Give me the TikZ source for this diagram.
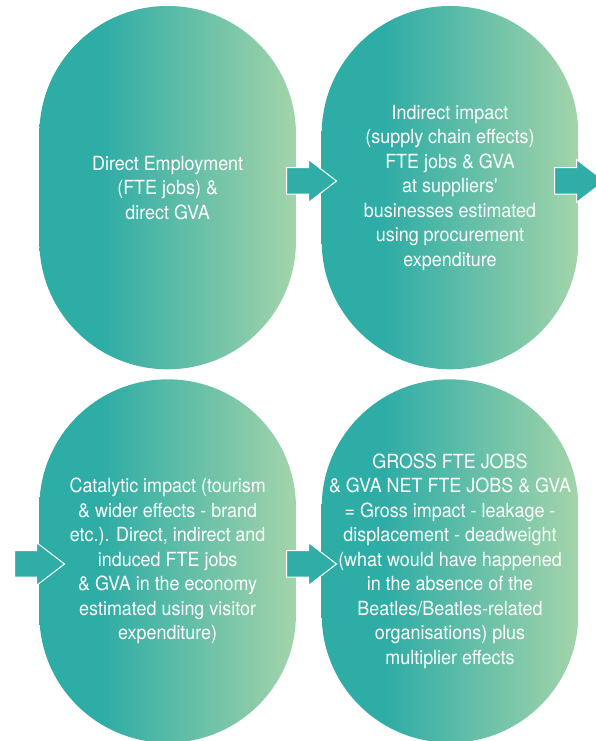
\documentclass[tikz,border=0pt]{standalone}
\usepackage{fontspec}
\setmainfont{TeX Gyre Heros}[FakeStretch=0.92]
\usepackage{tikz}
\usetikzlibrary{shapes,arrows}
\definecolor{pillteal}{RGB}{46,172,166}
\definecolor{pillgreen}{RGB}{163,212,170}
\definecolor{arrowteal}{RGB}{48,173,167}
\pgfdeclarehorizontalshading{pillfade}{100bp}{color(0bp)=(pillteal); color(37bp)=(pillteal);
    color(75bp)=(pillgreen); color(100bp)=(pillgreen)}
\newcommand{\pilltext}{\fontsize{19.5}{24.5}\selectfont}
\tikzstyle{pill} = [rectangle, shading=pillfade, rounded corners=128pt, text=white,
    align=center, font=\pilltext, inner sep=0pt, minimum width=256.6pt, minimum height=363.3pt]
\tikzstyle{flowarrow} = [single arrow, draw=white, line width=1pt, fill=arrowteal,
    minimum height=50pt, inner xsep=0pt, inner ysep=12.75pt, single arrow head extend=8.1pt,
    single arrow head indent=0pt, single arrow tip angle=75, anchor=tail]

\begin{document}
\begin{tikzpicture}
    \useasboundingbox (0,0) rectangle (595pt,741pt);
    \node [pill] (direct) at (167.65pt,553.35pt) {Direct Employment\\(FTE jobs) \&\\direct GVA};
    \node [pill, right of=direct, node distance=282.35pt] (indirect) {Indirect impact\\(supply chain effects)\\FTE jobs \& GVA\\at suppliers\textquotesingle\\businesses estimated\\using procurement\\expenditure};
    \node [pill, below of=direct, node distance=373.35pt] (catalytic) {Catalytic impact (tourism\\\& wider effects - brand\\etc.). Direct, indirect and\\induced FTE jobs\\\& GVA in the economy\\estimated using visitor\\expenditure)};
    \node [pill, right of=catalytic, node distance=282.35pt] (gross) {GROSS FTE JOBS\\\& GVA NET FTE JOBS \& GVA\\= Gross impact - leakage -\\displacement - deadweight\\(what would have happened\\in the absence of the\\Beatles/Beatles-related\\organisations) plus\\multiplier effects};

    % Draw arrows
    \node [flowarrow] (toindirect) at (286pt,560pt) {};
    \node [flowarrow] (onward) at (554pt,560pt) {};
    \node [flowarrow] (tocatalytic) at (14pt,177pt) {};
    \node [flowarrow] (togross) at (286pt,177pt) {};
\end{tikzpicture}
\end{document}
